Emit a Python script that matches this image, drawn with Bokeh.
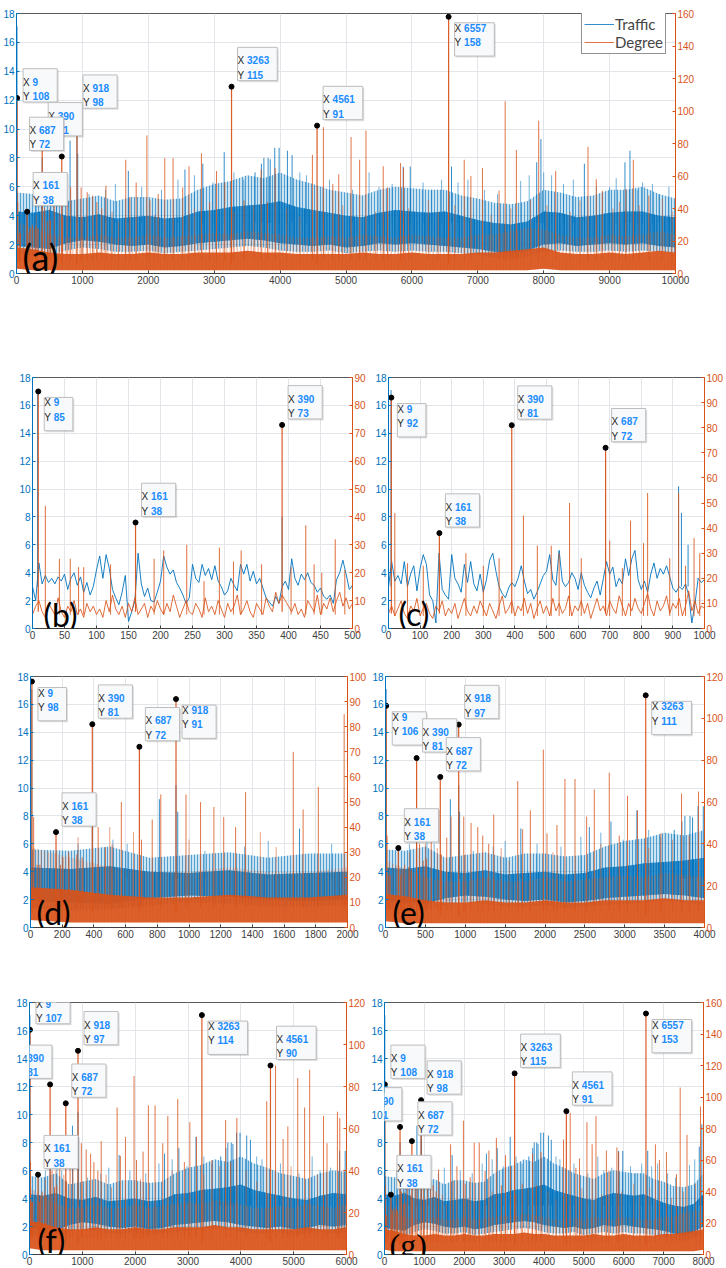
from bokeh.plotting import figure
from bokeh.models import (Range1d, LinearAxis, Label, Legend, LegendItem,
                          FixedTicker, Spacer)
from bokeh.layouts import column, row
from bokeh.embed import file_html
from bokeh.resources import INLINE

BLUE = "#0072BD"
ORANGE = "#D95319"
TIPBLUE = "#1A8CFF"
FONT = "Liberation Sans"

# ---------------- data ----------------
# panel (b): traffic (x1e5) and degree sampled every 5 steps, 0..500
B_STEP = 5
traffic_b = [3.0, 2.0, 4.7, 3.2, 3.8, 3.3, 3.6, 3.2, 3.7, 3.4,
             3.9, 2.8, 3.6, 4.0, 3.1, 3.7, 2.6, 3.3, 2.4, 3.0,
             4.2, 5.2, 3.6, 5.3, 4.3, 2.8, 2.2, 1.7, 2.6, 3.8,
             0.5, 1.2, 2.0, 5.4, 3.2, 2.3, 2.9, 2.0, 1.9, 2.6,
             3.4, 5.2, 4.4, 3.9, 4.2, 3.3, 2.9, 2.4, 1.8, 2.2,
             4.6, 3.6, 3.3, 4.6, 3.8, 4.3, 3.5, 4.5, 3.4, 3.0,
             2.4, 2.7, 3.6, 3.1, 2.7, 4.6, 3.9, 4.6, 3.4, 4.1,
             3.2, 3.6, 2.9, 2.2, 1.9, 1.6, 2.3, 1.8, 3.0, 3.4,
             2.8, 5.0, 3.6, 3.1, 3.9, 3.5, 4.0, 3.3, 3.1, 2.6,
             2.9, 2.3, 2.1, 2.4, 1.8, 3.5, 4.0, 4.9, 3.9, 2.8,
             3.1]
degree_b = [5, 8, 10, 6, 4, 9, 7, 5, 11, 6,
            4, 8, 6, 10, 5, 7, 4, 9, 6, 8,
            5, 7, 4, 10, 6, 12, 7, 5, 8, 4,
            9, 6, 11, 5, 7, 9, 4, 8, 6, 10,
            7, 5, 9, 6, 12, 8, 4, 7, 10, 6,
            5, 9, 7, 4, 11, 6, 8, 5, 10, 7,
            4, 9, 6, 8, 12, 5, 7, 10, 6, 4,
            9, 7, 5, 11, 8, 6, 13, 9, 12, 10,
            8, 6, 9, 5, 7, 4, 10, 8, 6, 12,
            5, 9, 7, 11, 6, 10, 13, 8, 11, 7,
            9]
deg_spk_b_x = [20, 42, 59, 72, 80, 122, 190, 205, 241, 268, 292, 314, 326, 358, 404, 427, 440, 452, 473, 488]
deg_spk_b_y = [44, 25, 25, 22, 22, 23, 25, 28, 30, 17, 29, 24, 28, 23, 22, 37, 23, 20, 32, 21]
trf_spk_b_x = [8, 390]
trf_spk_b_y = [17.1, 8.0]

# panel (c): sampled every 10 steps, 0..1000
C_STEP = 10
traffic_c = [3.0, 4.8, 3.4, 3.8, 3.2, 4.8, 3.0, 3.9, 4.5, 2.7,
             4.3, 5.3, 4.6, 2.4, 2.0, 0.4, 5.4, 2.8, 2.4, 2.1,
             5.3, 3.6, 3.2, 2.6, 4.6, 3.3, 4.8, 3.2, 2.7, 3.9,
             2.6, 3.5, 4.9, 5.4, 4.1, 3.0, 2.5, 2.2, 2.9, 3.3,
             3.0, 3.6, 4.5, 3.4, 2.5, 2.8, 2.1, 2.6, 3.2, 3.8,
             4.1, 5.3, 3.5, 3.1, 5.6, 3.4, 3.0, 3.3, 4.0, 3.6,
             2.8, 4.0, 3.1, 2.6, 2.2, 2.9, 3.4, 2.4, 3.6, 4.8,
             3.9, 4.4, 3.0, 3.6, 3.2, 5.0, 3.8, 5.0, 5.6, 3.5,
             2.8, 3.4, 2.6, 3.9, 4.7, 3.6, 4.3, 3.9, 4.5, 3.7,
             2.9, 2.6, 3.0, 2.8, 3.2, 2.4, 0.4, 1.8, 3.6, 3.3,
             3.5]
degree_c = [6, 9, 5, 8, 11, 6, 4, 9, 7, 12,
            5, 8, 10, 6, 4, 9, 7, 11, 5, 8,
            6, 10, 4, 8, 12, 7, 5, 9, 6, 11,
            8, 5, 10, 7, 4, 9, 13, 6, 8, 11,
            5, 9, 7, 12, 6, 10, 4, 8, 11, 6,
            9, 5, 12, 7, 10, 6, 8, 13, 5, 9,
            7, 11, 6, 10, 4, 8, 12, 7, 9, 5,
            11, 8, 6, 13, 9, 5, 10, 7, 12, 8,
            6, 10, 14, 8, 5, 11, 7, 9, 13, 6,
            10, 8, 12, 5, 9, 15, 7, 11, 6, 9,
            8]
deg_spk_c_x = [20, 60, 110, 245, 300, 350, 427, 471, 515, 540, 573, 610, 700, 740, 766, 807, 820, 890, 918, 940, 967, 985]
deg_spk_c_y = [46, 26, 25, 30, 25, 28, 45, 33, 33, 30, 50, 28, 35, 24, 43, 34, 54, 28, 54, 25, 36, 30]
trf_spk_c_x = [8, 918, 927, 948]
trf_spk_c_y = [17.1, 10.2, 8.3, 6.0]

# long series (panels a, d, e, f, g): envelopes every 250 steps, 0..10000
ENV_STEP = 250
traffic_low = [1.4, 1.2, 1.3, 1.6, 1.8, 1.7, 1.5, 1.5, 1.6, 1.4,
               1.5, 1.6, 1.7, 1.8, 1.9, 1.8, 1.6, 1.5, 1.5, 1.6,
               1.4, 1.5, 1.6, 1.5, 1.6, 1.5, 1.5, 1.4, 1.3, 1.1,
               1.0, 1.2, 1.5, 1.6, 1.5, 1.5, 1.6, 1.5, 1.6, 1.5, 1.4]
traffic_core_low = [1.9, 1.8, 1.7, 2.1, 2.3, 2.2, 2.0, 1.9, 2.0, 1.8,
                    1.9, 2.1, 2.2, 2.3, 2.4, 2.3, 2.1, 2.0, 1.9, 2.0,
                    1.8, 1.9, 2.1, 2.0, 2.1, 2.0, 1.9, 1.8, 1.7, 1.5,
                    1.4, 1.6, 2.0, 2.1, 1.9, 2.0, 2.1, 2.0, 2.1, 1.9, 1.8]
traffic_core_high = [4.3, 4.2, 4.4, 4.0, 3.9, 4.1, 3.8, 3.9, 4.0, 3.8,
                     3.9, 4.3, 4.4, 4.6, 4.7, 4.8, 5.0, 4.6, 4.4, 4.2,
                     4.0, 3.9, 4.2, 4.4, 4.3, 4.2, 4.3, 4.0, 3.7, 3.5,
                     3.4, 3.6, 4.3, 4.2, 3.9, 4.0, 4.2, 4.3, 4.3, 4.0, 3.9]
traffic_high = [5.6, 5.5, 5.8, 5.0, 5.2, 5.4, 5.0, 5.3, 5.3, 5.1,
                5.2, 5.8, 6.2, 6.4, 6.8, 6.6, 7.0, 6.5, 6.2, 5.8,
                5.6, 5.4, 5.8, 6.0, 5.9, 5.8, 5.8, 5.4, 5.2, 4.9,
                4.8, 5.0, 5.8, 5.6, 5.3, 5.4, 5.8, 5.8, 6.0, 5.5, 5.2]
degree_low = [3, 2, 2, 2, 2, 2, 2, 2, 2, 2,
              2, 2, 2, 2, 2, 2, 2, 2, 2, 2,
              2, 2, 2, 2, 2, 2, 2, 2, 2, 2,
              2, 2, 3, 2, 2, 2, 2, 2, 2, 2, 2]
degree_core_high = [16, 15, 13, 12, 12, 13, 12, 12, 13, 12,
                    12, 13, 13, 13, 14, 13, 13, 12, 12, 12,
                    12, 13, 12, 12, 13, 12, 12, 12, 13, 13,
                    14, 15, 16, 13, 12, 12, 13, 12, 13, 14, 13]
degree_high = [32, 28, 24, 22, 22, 24, 22, 22, 24, 22,
               23, 24, 25, 24, 26, 25, 24, 22, 22, 23,
               22, 24, 23, 22, 24, 23, 22, 22, 24, 24,
               26, 28, 27, 24, 22, 22, 24, 23, 24, 26, 24]
deg_spk_x = [20, 42, 59, 190, 205, 241, 292, 326, 427, 473,
             515, 573, 700, 768, 822, 981, 1073, 1157, 1219, 1294,
             1357, 1658, 1720, 1816, 1979, 2025, 2150, 2250, 2376, 2522,
             2618, 2806, 2931, 3035, 3160, 3453, 3712, 3808, 3925, 4490,
             4657, 4800, 4890, 5077, 5207, 5303, 5565, 5631, 5828, 5873,
             6794, 6895, 7071, 7323, 7415, 7586, 7924, 8182, 8672, 8798,
             8889, 9247, 9360, 9596]
deg_spk_y = [44, 25, 25, 25, 28, 30, 29, 28, 40, 32,
             33, 50, 35, 43, 53, 53, 50, 48, 44, 40,
             54, 70, 47, 56, 85, 45, 49, 71, 71, 53,
             66, 74, 44, 63, 56, 45, 64, 44, 65, 73,
             90, 55, 61, 84, 70, 88, 66, 53, 68, 65,
             70, 60, 65, 51, 106, 76, 94, 63, 78, 58,
             51, 52, 70, 48]
deg_minor_x = [300, 500, 650, 1000, 1450, 1550, 2100, 2700, 3300, 3600,
               4100, 4300, 4950, 5450, 5950, 6250, 6400, 6650, 7200, 7500,
               7800, 8050, 8400, 8550, 9050, 9150, 9450, 9800, 9950]
deg_minor_y = [36, 40, 38, 35, 38, 32, 36, 40, 38, 42,
               40, 35, 42, 38, 40, 45, 38, 42, 36, 40,
               45, 42, 38, 45, 40, 44, 42, 46, 38]
trf_spk_x = [8, 390, 813, 918, 929, 1697, 2556, 2827, 3152, 3620,
             3717, 3754, 3818, 3850, 3919, 3985, 4111, 4182, 5868, 5975,
             6601, 7894, 7958, 8617, 9233, 9309]
trf_spk_y = [17.1, 8.0, 9.2, 10.2, 8.3, 7.1, 7.2, 7.6, 8.4, 7.0,
             7.6, 8.0, 8.0, 7.9, 8.7, 8.7, 8.5, 8.2, 7.4, 7.4,
             7.4, 7.7, 9.3, 7.6, 7.7, 8.5]
trf_minor_x = [300, 520, 610, 1100, 1350, 1500, 1900, 2200, 2450, 2700,
               2980, 3300, 3450, 4300, 4400, 4650, 4750, 5100, 5350, 5500,
               5700, 6170, 6300, 6450, 6700, 6850, 7100, 7300, 7650, 7780,
               8000, 8120, 8300, 8450, 8800, 9000, 9100, 9420, 9500, 9650,
               9750, 9900]
trf_minor_y = [6.0, 6.3, 6.0, 5.5, 5.8, 6.2, 6.0, 5.8, 6.5, 6.8,
               6.3, 7.0, 6.5, 7.0, 6.8, 6.0, 6.5, 5.8, 7.0, 6.0,
               6.2, 6.3, 5.8, 6.5, 6.3, 6.5, 5.8, 5.5, 6.4, 6.8,
               7.0, 6.8, 6.2, 6.5, 6.0, 6.0, 6.6, 5.8, 6.3, 6.2,
               5.5, 6.0]

# data tips per panel
tips_a_x = [9, 161, 390, 687, 918, 3263, 4561, 6557]
tips_a_y = [108, 38, 81, 72, 98, 115, 91, 158]
tips_b_x = [9, 161, 390]
tips_b_y = [85, 38, 73]
tips_c_x = [9, 161, 390, 687]
tips_c_y = [92, 38, 81, 72]
tips_d_x = [9, 161, 390, 687, 918]
tips_d_y = [98, 38, 81, 72, 91]
tips_e_x = [9, 161, 390, 687, 918, 3263]
tips_e_y = [106, 38, 81, 72, 97, 111]
tips_f_x = [9, 161, 390, 687, 918, 3263, 4561]
tips_f_y = [107, 38, 81, 72, 97, 114, 90]
tips_g_x = [9, 161, 390, 687, 918, 3263, 4561, 6557]
tips_g_y = [108, 38, 81, 72, 98, 115, 91, 153]

# tip box placement (style): ur = upper right, ul = upper left, lr = lower right, r = right
tips_a_o = ["r", "ur", "ur", "ul", "ur", "ur", "ur", "lr"]
tips_b_o = ["lr", "ur", "ur"]
tips_c_o = ["lr", "ur", "ur", "ur"]
tips_d_o = ["lr", "ur", "ur", "ur", "lr"]
tips_e_o = ["lr", "ur", "ur", "ur", "ur", "lr"]
tips_f_o = ["ur", "ur", "ul", "ur", "ur", "lr", "ur"]
tips_g_o = ["ur", "ur", "ul", "ur", "ur", "ur", "ur", "lr"]


# ---------------- helpers ----------------
def style_axis(ax, color):
    ax.axis_line_color = color
    ax.major_tick_line_color = color
    ax.major_label_text_color = color
    ax.major_tick_in = 3
    ax.major_tick_out = 0
    ax.minor_tick_line_color = None
    ax.major_label_text_font = FONT
    ax.major_label_text_font_size = "10px"
    ax.major_label_standoff = 2


def make_fig(xmax, xstep, dmax, dstep, L, W, R, T, H, B):
    p = figure(width=L + W + R, height=T + H + B,
               x_range=Range1d(0, xmax), y_range=Range1d(0, 18),
               toolbar_location=None, output_backend="svg",
               min_border_left=L, min_border_right=R,
               min_border_top=T, min_border_bottom=B)
    p.extra_y_ranges = {"deg": Range1d(0, dmax)}
    p.outline_line_color = "#5a5a5a"
    p.outline_line_width = 1
    xt = FixedTicker(ticks=list(range(0, xmax + 1, xstep)))
    yt = FixedTicker(ticks=list(range(0, 19, 2)))
    p.xaxis.ticker = xt
    p.yaxis.ticker = yt
    p.xgrid.ticker = xt
    p.ygrid.ticker = yt
    p.grid.grid_line_color = "#E2E5EA"
    p.grid.grid_line_width = 1
    style_axis(p.xaxis[0], "#404040")
    style_axis(p.yaxis[0], BLUE)
    ra = LinearAxis(y_range_name="deg",
                    ticker=FixedTicker(ticks=list(range(0, dmax + 1, dstep))))
    style_axis(ra, ORANGE)
    p.add_layout(ra, "right")
    # x10^5 exponent label
    p.add_layout(Label(x=0, y=18, x_offset=1, y_offset=1, text="\u00d710",
                       text_font=FONT, text_font_size="9px", text_color=BLUE,
                       text_baseline="bottom"))
    p.add_layout(Label(x=0, y=18, x_offset=17, y_offset=5, text="5",
                       text_font=FONT, text_font_size="7px", text_color=BLUE,
                       text_baseline="bottom"))
    return p


def spikes(p, xs, ys, foot, color, alpha, width=1, rng=None):
    kw = {"y_range_name": rng} if rng else {}
    return p.segment(x0=xs, y0=[foot] * len(xs), x1=xs, y1=ys,
                     line_color=color, line_alpha=alpha, line_width=width, **kw)


def dense(p):
    xs = [ENV_STEP * i for i in range(len(traffic_low))]
    p.varea(x=xs, y1=traffic_low, y2=traffic_high, fill_color=BLUE, fill_alpha=0.2,
            hatch_pattern="vertical_line", hatch_color=BLUE, hatch_alpha=0.6,
            hatch_scale=3, hatch_weight=1)
    p.varea(x=xs, y1=traffic_core_low, y2=traffic_core_high, fill_color=BLUE, fill_alpha=0.7,
            hatch_pattern="vertical_line", hatch_color=BLUE, hatch_alpha=1,
            hatch_scale=2.5, hatch_weight=1.2)
    spikes(p, trf_minor_x, trf_minor_y, 3.5, BLUE, 0.55)
    rb = spikes(p, trf_spk_x, trf_spk_y, 3.5, BLUE, 0.8)
    p.varea(x=xs, y1=degree_low, y2=degree_high, fill_color=ORANGE, fill_alpha=0.0,
            hatch_pattern="vertical_line", hatch_color=ORANGE, hatch_alpha=0.5,
            hatch_scale=3.5, hatch_weight=1, y_range_name="deg")
    p.varea(x=xs, y1=degree_low, y2=degree_core_high, fill_color=ORANGE, fill_alpha=0.92,
            y_range_name="deg")
    spikes(p, deg_minor_x, deg_minor_y, 8, ORANGE, 0.55, rng="deg")
    ro = spikes(p, deg_spk_x, deg_spk_y, 8, ORANGE, 0.8, rng="deg")
    return rb, ro


def lines(p, step, trf, deg, tsx, tsy, dsx, dsy):
    xs = [step * i for i in range(len(trf))]
    p.line(x=xs, y=trf, line_color=BLUE, line_width=1, line_alpha=0.9)
    spikes(p, tsx, tsy, 3, BLUE, 0.85)
    xd = [step * i for i in range(len(deg))]
    p.line(x=xd, y=deg, line_color=ORANGE, line_width=1, line_alpha=0.85, y_range_name="deg")
    spikes(p, dsx, dsy, 5, ORANGE, 0.85, rng="deg")


def tips(p, xs, ys, orients):
    spikes(p, xs, ys, 6, ORANGE, 0.95, width=1.2, rng="deg")
    p.scatter(x=xs, y=ys, size=5, color="black", y_range_name="deg")
    pad, gap = 4, 2
    for x, y, o in zip(xs, ys, orients):
        n = max(len(str(x)), len(str(y)))
        tw = 9.5 + 5.6 * n
        if o == "ur":
            xo, yo, base = gap + pad, gap + pad, "bottom"
        elif o == "ul":
            xo, yo, base = -(gap + pad + tw), gap + pad, "bottom"
        elif o == "lr":
            xo, yo, base = gap + pad, -(gap + pad), "top"
        else:
            xo, yo, base = gap + pad, -8 + pad, "bottom"
        common = dict(x=x, y=y, y_range_name="deg", text_font=FONT,
                      text_font_size="10px", text_line_height=1.3,
                      text_baseline=base, text_align="left")
        txt = f"X {x}\nY {y}"
        p.add_layout(Label(x_offset=xo + 1.5, y_offset=yo - 1.5, text=txt,
                           text_font_style="bold", text_color="#cccccc",
                           background_fill_color="black", background_fill_alpha=0.13,
                           padding=pad, **common))
        p.add_layout(Label(x_offset=xo, y_offset=yo, text=txt,
                           text_font_style="bold", text_color="#F8F9FB",
                           background_fill_color="#F8F9FB", background_fill_alpha=1,
                           border_line_color="#BDBDBD", border_line_width=1,
                           padding=pad, **common))
        p.add_layout(Label(x_offset=xo, y_offset=yo, text="X\nY",
                           text_color="#262626", **common))
        p.add_layout(Label(x_offset=xo + 9.5, y_offset=yo, text=f"{x}\n{y}",
                           text_color=TIPBLUE, text_font_style="bold", **common))


def panel_label(p, text, xo, yo, size, font="Lato"):
    p.add_layout(Label(x=0, y=0, x_offset=xo, y_offset=yo, text=text,
                       text_font=font, text_font_size=size, text_color="black",
                       text_baseline="alphabetic"))


# ---------------- panels ----------------
fa = make_fig(10000, 1000, 160, 20, 15, 660, 30, 13, 260, 20)
r_t, r_d = dense(fa)
tips(fa, tips_a_x, tips_a_y, tips_a_o)
panel_label(fa, "(a)", 6, 17, "36px")
leg = Legend(items=[LegendItem(label="Traffic", renderers=[r_t]),
                    LegendItem(label="Degree", renderers=[r_d])],
             location=(565, 219), label_text_font="Lato", label_text_font_size="15px",
             label_height=12, glyph_height=12, glyph_width=30, spacing=0, padding=2,
             margin=0, label_standoff=1, border_line_color="#262626",
             border_line_width=1, background_fill_alpha=1)
fa.add_layout(leg)

fb = make_fig(500, 50, 90, 10, 32, 320, 20, 12, 251, 20)
lines(fb, B_STEP, traffic_b, degree_b, trf_spk_b_x, trf_spk_b_y, deg_spk_b_x, deg_spk_b_y)
tips(fb, tips_b_x, tips_b_y, tips_b_o)
panel_label(fb, "(b)", 11, 14, "32px")

fc = make_fig(1000, 100, 100, 10, 14, 320, 20, 12, 251, 20)
lines(fc, C_STEP, traffic_c, degree_c, trf_spk_c_x, trf_spk_c_y, deg_spk_c_x, deg_spk_c_y)
tips(fc, tips_c_x, tips_c_y, tips_c_o)
panel_label(fc, "(c)", 10, 15, "32px")

fd = make_fig(2000, 200, 100, 10, 30, 319, 20, 13, 251, 20)
dense(fd)
tips(fd, tips_d_x, tips_d_y, tips_d_o)
panel_label(fd, "(d)", 6, 15, "32px")

fe = make_fig(4000, 500, 120, 20, 15, 320, 22, 13, 251, 20)
dense(fe)
tips(fe, tips_e_x, tips_e_y, tips_e_o)
panel_label(fe, "(e)", 7, 15, "32px")

ff = make_fig(6000, 1000, 120, 20, 29, 319, 20, 12, 252, 14)
dense(ff)
tips(ff, tips_f_x, tips_f_y, tips_f_o)
panel_label(ff, "(f)", 8, 14, "32px")

fg = make_fig(8000, 1000, 160, 20, 16, 319, 23, 12, 252, 14)
dense(fg)
tips(fg, tips_g_x, tips_g_y, tips_g_o)
panel_label(fg, "(g)", 5, 10, "32px", font="Liberation Serif")

layout = column(fa, Spacer(width=10, height=72), row(fb, fc),
                Spacer(width=10, height=15), row(fd, fe),
                Spacer(width=10, height=43), row(ff, fg))

open("out.html", "w").write(file_html(layout, INLINE))
